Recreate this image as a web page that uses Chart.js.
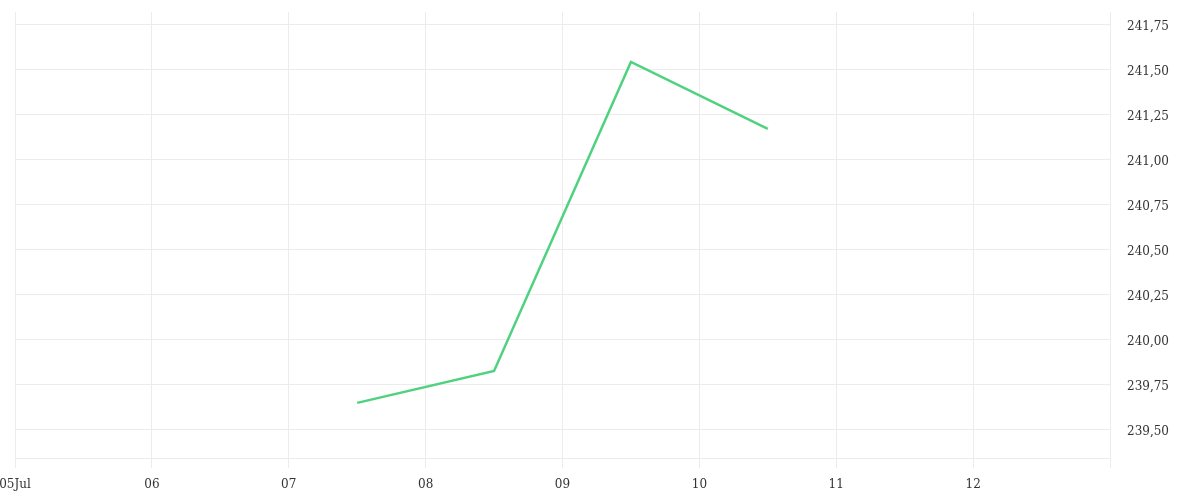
<!DOCTYPE html>
<html>
<head>
<meta charset="utf-8">
<script src="https://cdn.jsdelivr.net/npm/chart.js@4"></script>
<style>
  html, body { margin: 0; padding: 0; background: #fff; }
  #wrap { width: 1200px; height: 500px; }
</style>
</head>
<body>
<div id="wrap"><canvas id="priceChart"></canvas></div>
<script>
// days in July (12:00 = .5)
const xDays = [7.5, 8.5, 9.5, 10.5];
const prices = [239.645, 239.822, 241.539, 241.167];
const dayTicks = [5, 6, 7, 8, 9, 10, 11, 12, 13];
const dayLabels = ['05Jul', '06', '07', '08', '09', '10', '11', '12', ''];

const gridColor = '#ececec';
const fontFamily = '"DejaVu Serif", serif';

document.addEventListener("DOMContentLoaded", () => {
    const ctx = document.getElementById('priceChart').getContext('2d');
    new Chart(ctx, {
        type: 'line',
        data: {
            datasets: [{
                data: xDays.map((d, i) => ({ x: d, y: prices[i] })),
                borderColor: '#4fd27f',
                borderWidth: 2.5,
                pointRadius: 0,
                tension: 0,
                fill: false
            }]
        },
        options: {
            responsive: true,
            maintainAspectRatio: false,
            animation: false,
            layout: { padding: 0 },
            plugins: {
                legend: { display: false },
                tooltip: { enabled: false }
            },
            scales: {
                x: {
                    type: 'linear',
                    min: 5,
                    max: 13,
                    afterBuildTicks: (axis) => {
                        axis.ticks = dayTicks.map(v => ({ value: v }));
                    },
                    afterFit: (axis) => {
                        axis.height = 42;
                        axis.paddingLeft = 15;
                        axis.paddingRight = 0;
                    },
                    grid: { color: gridColor, tickLength: 10, drawTicks: true },
                    border: { color: gridColor },
                    ticks: {
                        autoSkip: false,
                        maxRotation: 0,
                        padding: 10,
                        color: '#333',
                        font: { family: fontFamily, size: 12 },
                        callback: (v) => dayLabels[dayTicks.indexOf(v)]
                    }
                },
                y: {
                    position: 'right',
                    min: 239.3389,
                    max: 241.8167,
                    afterBuildTicks: (axis) => {
                        const t = [];
                        for (let v = 239.5; v <= 241.75 + 1e-9; v += 0.25) t.push({ value: v });
                        axis.ticks = t;
                    },
                    afterFit: (axis) => {
                        axis.width = 90;
                        axis.paddingTop = 12;
                        axis.paddingBottom = 0;
                    },
                    grid: { color: gridColor, drawTicks: false },
                    border: { color: gridColor },
                    ticks: {
                        padding: 17,
                        labelOffset: 3,
                        color: '#333',
                        font: { family: fontFamily, size: 12 },
                        callback: (v) => v.toFixed(2).replace('.', ',')
                    }
                }
            }
        }
    });
});
</script>
</body>
</html>
